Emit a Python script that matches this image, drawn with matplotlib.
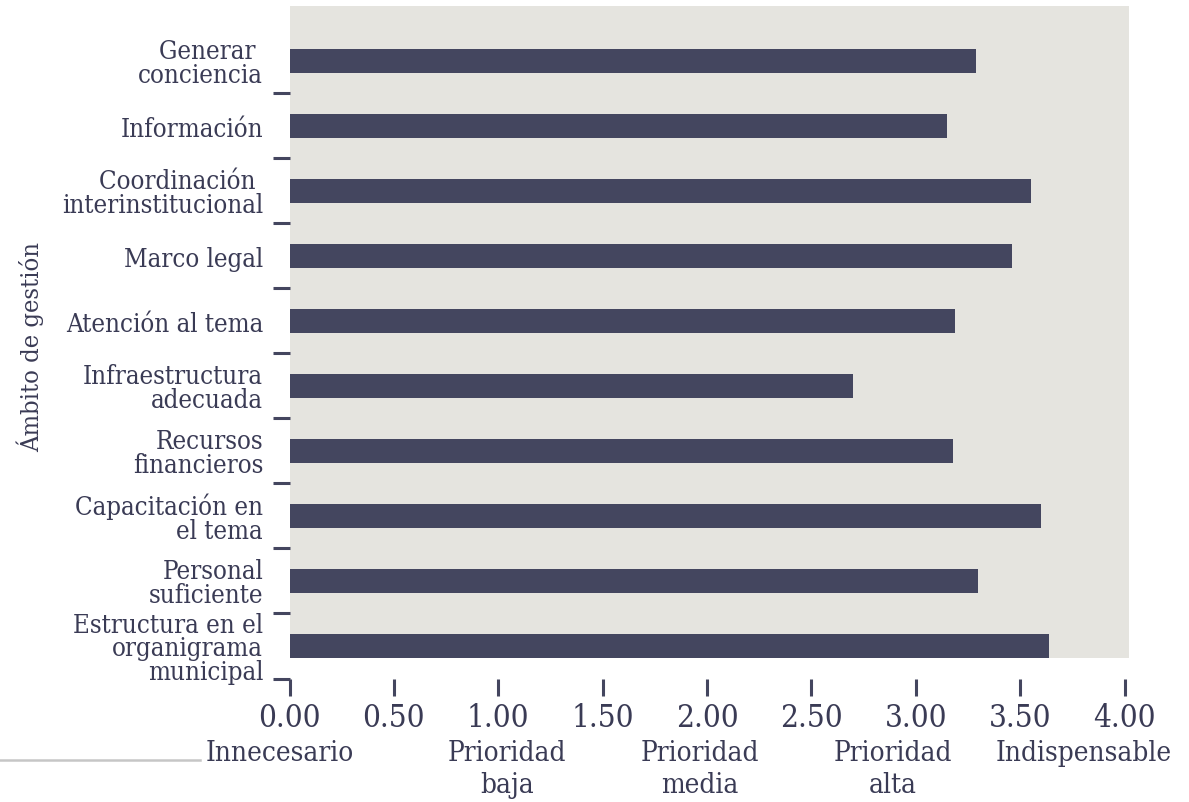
import matplotlib
matplotlib.use("Agg")
import matplotlib.pyplot as plt
import numpy as np
from matplotlib.lines import Line2D
from matplotlib.transforms import blended_transform_factory

# --- data -------------------------------------------------------------
categories = [
    "Generar \nconciencia",
    "Información",
    "Coordinación \ninterinstitucional",
    "Marco legal",
    "Atención al tema",
    "Infraestructura\nadecuada",
    "Recursos\nfinancieros",
    "Capacitación en\nel tema",
    "Personal\nsuficiente",
    "Estructura en el\norganigrama\nmunicipal",
]
scores = [3.29, 3.15, 3.55, 3.46, 3.19, 2.70, 3.18, 3.60, 3.30, 3.64]

x_ticks = [0.0, 0.5, 1.0, 1.5, 2.0, 2.5, 3.0, 3.5, 4.0]
x_tick_labels = [f"{v:.2f}" for v in x_ticks]

scale_labels = ["Innecesario", "Prioridad\nbaja", "Prioridad\nmedia",
                "Prioridad\nalta", "Indispensable"]
scale_label_x = [-0.048, 1.042, 1.966, 2.891, 3.806]

y_title = "Ámbito de gestión"

# --- style ------------------------------------------------------------
W, H, DPI = 1189, 803, 100
BAR = "#44465f"
INK = "#3a3b55"
PANEL = "#e5e4df"

plt.rcParams["font.family"] = "DejaVu Serif"
plt.rcParams["font.stretch"] = "condensed"

fig = plt.figure(figsize=(W / DPI, H / DPI), dpi=DPI)
fig.patch.set_facecolor("white")

# axes box in pixels: x 289.5..1129, y 7..679.5
left, right, top, bottom = 289.5, 1129.0, 7.0, 679.5
ax = fig.add_axes([left / W, 1 - bottom / H, (right - left) / W, (bottom - top) / H])
ax.set_facecolor("none")

n = len(categories)
pos = np.arange(n)
bar_h = 0.37
px_per_unit = 208.75
ax.set_xlim(0, (right - left) / px_per_unit)
ax.set_ylim(n - 0.5, -0.846)

# shaded panel behind the bars (stops at the lowest bar edge)
ax.axhspan(-0.846, (n - 1) + bar_h / 2, color=PANEL, lw=0, zorder=0)

ax.barh(pos, scores, height=bar_h, color=BAR, zorder=2)

for s in ax.spines.values():
    s.set_visible(False)

# category labels at bar centres, separator ticks between categories
ax.set_yticks(pos)
ax.set_yticklabels(categories)
ax.set_yticks(np.arange(n) + 0.5, minor=True)
ax.tick_params(axis="y", which="major", length=0, pad=19, labelsize=18.5,
               labelcolor=INK)
ax.tick_params(axis="y", which="minor", length=12.2, width=2.2, color=BAR,
               direction="out")
for t in ax.get_yticklabels():
    t.set_linespacing(0.92)

ax.set_xticks(x_ticks)
ax.set_xticklabels(x_tick_labels)
ax.tick_params(axis="x", which="major", length=12.2, width=2.2, color=BAR,
               direction="out", pad=5, labelsize=22.5, labelcolor=INK)

# verbal scale under the numeric ticks
scale_tr = blended_transform_factory(ax.transData, fig.transFigure)
for lab, xv in zip(scale_labels, scale_label_x):
    ax.text(xv, 1 - 740 / H, lab, transform=scale_tr, ha="center", va="top",
            fontsize=20, color=INK, linespacing=1.25)

fig.text(30 / W, 1 - 347 / H, y_title, rotation=90, ha="center", va="center",
         fontsize=18.3, color=INK)

fig.add_artist(Line2D([0, 200 / W], [1 - 760.5 / H] * 2, transform=fig.transFigure,
                      color="#c6c6c6", lw=1.8))

fig.savefig("out.png", dpi=DPI, facecolor="white")
